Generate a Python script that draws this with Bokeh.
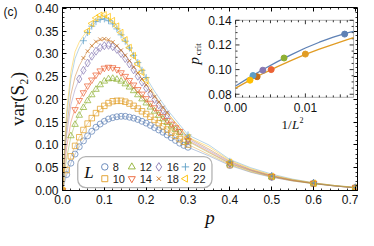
import numpy as np
from bokeh.plotting import figure
from bokeh.models import (Range1d, LinearAxis, SingleIntervalTicker, PrintfTickFormatter,
                          CustomJSTickFormatter, FixedTicker, BoxAnnotation, Label,
                          ColumnDataSource)
from bokeh.embed import file_html
from bokeh.resources import INLINE

# ---------------- data ----------------
L_VALUES = [8, 10, 12, 14, 16, 18, 20, 22]

P_GRID = [0.00, 0.01, 0.02, 0.03, 0.04, 0.05, 0.06, 0.07, 0.08, 0.09,
          0.10, 0.11, 0.12, 0.13, 0.14, 0.15, 0.16, 0.17, 0.18, 0.19,
          0.20, 0.21, 0.22, 0.23, 0.24, 0.25, 0.26, 0.27, 0.28, 0.29,
          0.30, 0.40, 0.50, 0.60, 0.70]

N = None
VAR_L8 = [0, .035, .060, .080, .096, .109, .120, .130, .139, .146,
          .152, .157, .160, .162, .163, .163, .161, .159, .156, .152,
          .148, .143, .138, .133, .128, .122, .116, .110, .104, .099,
          .095, .055, .029, .015, .006]
VAR_L10 = [0, .045, .075, .098, .117, .133, .147, .159, .170, .179,
           .186, .192, .196, .197, .197, .195, .191, .186, .180, .174,
           .168, .162, .155, .148, .141, .134, .127, .120, .113, .107,
           .101, .056, .030, .015, .006]
VAR_L12 = [0, N, .120, .145, .165, .182, .197, .210, .222, .232,
           .240, .245, .246, .244, .240, .234, .227, .219, .210, .201,
           .192, .183, .174, .165, .157, .149, .141, .134, .127, N,
           .108, .058, .030, .016, .006]
VAR_L14 = [0, N, N, .178, .198, .215, .230, .243, .254, .263,
           .269, .271, .270, .266, .259, .251, .242, .232, .222, .212,
           .202, .192, .182, .172, .163, .154, .146, .138, .130, N,
           .110, .059, .031, .016, .006]
VAR_L16 = [0, N, N, N, .245, .264, .280, .295, .306, .314,
           .318, .319, .316, .310, .301, .290, .278, .265, .251, .238,
           .225, .212, .200, .188, .177, .166, N, N, N, N,
           .113, .060, .031, .016, .006]
VAR_L18 = [0, N, N, N, N, .291, .306, .318, .327, .332,
           .333, .331, .326, .318, .308, .297, .285, .271, .258, .245,
           .232, .219, .206, .194, .182, .171, N, N, N, N,
           .116, .061, .032, .016, .006]
VAR_L20 = [0, N, N, N, N, .329, .347, .361, .371, .376,
           .377, .373, .366, .355, .342, .328, .313, .297, .281, .264,
           .248, N, N, N, N, N, N, N, N, N,
           .122, .064, .032, .017, .007]
VAR_L22 = [0, N, N, N, N, N, .350, .367, .379, .385,
           .386, .382, .373, .361, .347, .331, .314, .296, .278, .260,
           .242, N, N, N, N, N, N, N, N, N,
           .117, .062, .031, .016, .006]

FIT_P = [0, 0.005, 0.01, 0.02, 0.03, 0.04, 0.05, 0.06, 0.08, 0.10, 0.12, 0.14, 0.16,
         0.18, 0.20, 0.22, 0.25, 0.30, 0.35, 0.40, 0.45, 0.50, 0.55, 0.60, 0.65, 0.70]
FIT_L8 = [0, .018, .034, .060, .080, .096, .109, .120, .139, .152, .160, .163, .161,
          .156, .148, .138, .122, .095, .076, .055, .040, .029, .021, .015, .010, .006]
FIT_L10 = [0, .025, .045, .075, .098, .117, .133, .147, .170, .186, .196, .197, .191,
           .180, .168, .155, .134, .101, .079, .057, .041, .030, .021, .015, .010, .006]
FIT_L12 = [0, .040, .072, .118, .147, .167, .183, .197, .222, .240, .246, .240, .227,
           .210, .192, .174, .149, .108, .083, .059, .043, .031, .022, .015, .010, .006]
FIT_L14 = [0, .055, .095, .150, .180, .199, .215, .230, .254, .269, .270, .259, .242,
           .222, .202, .182, .154, .110, .085, .060, .044, .031, .022, .016, .010, .006]
FIT_L16 = [0, .070, .122, .188, .222, .245, .264, .280, .306, .318, .316, .301, .278,
           .251, .225, .200, .166, .113, .088, .062, .045, .032, .023, .016, .010, .006]
FIT_L18 = [0, .080, .140, .210, .250, .274, .291, .306, .327, .333, .326, .308, .285,
           .258, .232, .206, .171, .116, .091, .064, .046, .033, .023, .016, .011, .006]
FIT_L20 = [0, .090, .160, .245, .290, .313, .329, .347, .371, .377, .366, .342, .313,
           .281, .248, .218, .178, .122, .100, .068, .050, .036, .025, .017, .011, .007]
FIT_L22 = [0, .100, .175, .260, .305, .326, .340, .352, .379, .386, .373, .347, .314,
           .278, .242, .210, .170, .117, .096, .066, .048, .034, .024, .017, .011, .007]

# inset: critical p vs 1/L^2
INSET_PCRIT = [0.1288, 0.1126, 0.1094, 0.1000, 0.0995, 0.0942, 0.0952, 0.0914]
INSET_FIT_X = [0.0, 0.002, 0.004, 0.006, 0.008, 0.010, 0.012, 0.014, 0.016, 0.0169]
INSET_FIT_A = [0.0867, 0.0937, 0.1003, 0.1065, 0.1122, 0.1175, 0.1222, 0.1263, 0.1297, 0.1310]
INSET_FIT_B = [0.0850, 0.0912, 0.0970, 0.1024, 0.1075, 0.1124, 0.1166, 0.1205, 0.1244, 0.1260]

INSET_X_TICKS = [0.0, 0.01]
INSET_X_LABELS = ["0.00", "0.01"]
INSET_Y_TICKS = [0.08, 0.10, 0.12, 0.14]
INSET_Y_LABELS = ["0.08", "0.10", "0.12", "0.14"]

COLORS = ["#5E81B5", "#E19C24", "#8FB032", "#EB6235",
          "#8778B3", "#C56E1A", "#5D9EC7", "#FFBF00"]
MARKER_STYLE = [("circle", 0.0, 6), ("square", 0.0, 5.5), ("triangle", 0.0, 6.5),
                ("inverted_triangle", 0.0, 6.5), ("diamond", 0.0, 8), ("x", 0.0, 5.5),
                ("cross", 0.0, 7), ("triangle", np.pi / 2, 6.5)]

SERIES_VALUES = [VAR_L8, VAR_L10, VAR_L12, VAR_L14, VAR_L16, VAR_L18, VAR_L20, VAR_L22]
SERIES_FITS = [FIT_L8, FIT_L10, FIT_L12, FIT_L14, FIT_L16, FIT_L18, FIT_L20, FIT_L22]

# ---------------- layout ----------------
W, H = 358, 230
FRAME_L, FRAME_R, FRAME_T, FRAME_B = 57, 357, 7, 193
X_RANGE = (0.0, 0.705)
Y_RANGE = (0.0, 0.402)


def dx(px):
    return X_RANGE[0] + (px - FRAME_L) / (FRAME_R - FRAME_L) * (X_RANGE[1] - X_RANGE[0])


def dy(py):
    return Y_RANGE[1] - (py - FRAME_T) / (FRAME_B - FRAME_T) * (Y_RANGE[1] - Y_RANGE[0])


p = figure(width=W, height=H, x_range=Range1d(*X_RANGE), y_range=Range1d(*Y_RANGE),
           output_backend="svg", toolbar_location=None, x_axis_type=None, y_axis_type=None,
           min_border_left=FRAME_L, min_border_right=W - FRAME_R, min_border_top=FRAME_T,
           min_border_bottom=H - FRAME_B)
p.outline_line_color = None
p.background_fill_color = "white"
p.border_fill_color = "white"


def frame_axis(interval, fmt=None):
    ax = LinearAxis(ticker=SingleIntervalTicker(interval=interval, num_minor_ticks=5))
    ax.axis_line_color = "black"
    ax.axis_line_width = 1
    ax.major_tick_in = 4
    ax.major_tick_out = 0
    ax.minor_tick_in = 2
    ax.minor_tick_out = 0
    ax.major_tick_line_color = "black"
    ax.minor_tick_line_color = "black"
    ax.minor_tick_line_width = 0.8
    if fmt:
        ax.formatter = PrintfTickFormatter(format=fmt)
        ax.major_label_text_font = "Liberation Sans"
        ax.major_label_text_font_size = "12px"
        ax.major_label_text_color = "#111111"
        ax.major_label_standoff = 4
    else:
        ax.formatter = CustomJSTickFormatter(code="return ''")
        ax.major_label_text_font_size = "0px"
        ax.major_label_standoff = 0
    return ax


xaxis = frame_axis(0.1, "%.1f")
xaxis.axis_label = "p"
xaxis.axis_label_text_font = "Liberation Serif"
xaxis.axis_label_text_font_style = "italic"
xaxis.axis_label_text_font_size = "19px"
xaxis.axis_label_text_color = "#111111"
xaxis.axis_label_standoff = 0
p.add_layout(xaxis, "below")

yaxis = frame_axis(0.05, "%.2f")
yaxis.axis_label = "var(S\u2082)"
yaxis.axis_label_text_font = "Liberation Serif"
yaxis.axis_label_text_font_style = "normal"
yaxis.axis_label_text_font_size = "19px"
yaxis.axis_label_text_color = "#111111"
yaxis.axis_label_standoff = 4
p.add_layout(yaxis, "left")

# panel tag "(c)" as the single tick label of an outer, invisible left axis
tag_axis = LinearAxis(ticker=FixedTicker(ticks=[0.393], minor_ticks=[]),
                      formatter=CustomJSTickFormatter(code="return '(c)'"))
tag_axis.axis_line_color = None
tag_axis.major_tick_line_color = None
tag_axis.minor_tick_line_color = None
tag_axis.major_tick_in = 0
tag_axis.major_tick_out = 0
tag_axis.major_label_standoff = -13
tag_axis.major_label_text_font = "Liberation Sans"
tag_axis.major_label_text_font_size = "12px"
tag_axis.major_label_text_color = "#111111"
p.add_layout(tag_axis, "left")

p.add_layout(frame_axis(0.1), "above")
p.add_layout(frame_axis(0.05), "right")

# ---------------- main curves ----------------
for i, fit in enumerate(SERIES_FITS):
    p.line(FIT_P, fit, line_color=COLORS[i], line_width=0.8, line_alpha=0.55)

for i, vals in enumerate(SERIES_VALUES):
    xs = [pp for pp, v in zip(P_GRID, vals) if v is not None]
    ys = [v for v in vals if v is not None]
    mk, ang, sz = MARKER_STYLE[i]
    p.scatter(xs, ys, marker=mk, angle=ang, size=sz, fill_color=None,
              line_color=COLORS[i], line_width=1, line_alpha=0.72)


def lab(text, px, py, size, font="Liberation Sans", style="normal", align="center",
        baseline="middle", angle=0.0, color="#111111"):
    l = Label(x=dx(px), y=dy(py), text=text, text_font=font, text_font_size=f"{size}px",
              text_font_style=style, text_align=align, text_baseline=baseline,
              angle=angle, text_color=color, level="overlay")
    p.add_layout(l)


# ---------------- legend ----------------
box_kw = dict(left=dx(72.5), right=dx(209), top=dy(158.5), bottom=dy(190),
              fill_color="white", fill_alpha=1.0, line_color="black", line_width=1.3)
if "border_radius" in BoxAnnotation.properties():
    box_kw["border_radius"] = 8
p.add_layout(BoxAnnotation(**box_kw))
lab("L", 84, 174.5, 17, font="Liberation Serif", style="italic")
LEG_COL_X = [100, 127.5, 155, 182]
LEG_ROW_Y = [169, 181]
for i, L in enumerate(L_VALUES):
    mx = LEG_COL_X[i // 2]
    my = LEG_ROW_Y[i % 2]
    mk, ang, sz = MARKER_STYLE[i]
    p.scatter([dx(mx)], [dy(my)], marker=mk, angle=ang, size=sz + 0.5, fill_color=None,
              line_color=COLORS[i], line_width=1, line_alpha=0.9, level="overlay")
    lab(str(L), mx + 8, my, 11, align="left", color="#222222")

# ---------------- inset ----------------
IX0, IX1, IY0, IY1 = 0.0, 0.0169, 0.0775, 0.14
IL, IR, IT, IB = 233.0, 353.0, 20.0, 98.3
sx = (IX1 - IX0) / (IR - IL)
sy = (IY1 - IY0) / (IB - IT)
ix_start = IX0 - (IL - FRAME_L) * sx
ix_end = ix_start + (FRAME_R - FRAME_L) * sx
iy_end = IY1 + (IT - FRAME_T) * sy
iy_start = iy_end - (FRAME_B - FRAME_T) * sy
p.extra_x_ranges = {"ix": Range1d(ix_start, ix_end)}
p.extra_y_ranges = {"iy": Range1d(iy_start, iy_end)}


def ipx(x):
    return IL + (x - IX0) / sx


def ipy(y):
    return IT + (IY1 - y) / sy


p.add_layout(BoxAnnotation(left=dx(IL), right=dx(IR), top=dy(IT), bottom=dy(IB),
                           fill_color="white", fill_alpha=1.0, line_color="black",
                           line_width=1))

# inset ticks
x0s, y0s, x1s, y1s = [], [], [], []
for k in range(0, 17):
    xv = k * 0.001
    ln = 4 if k % 10 == 0 else (3 if k % 5 == 0 else 2)
    for yb, sgn in ((IY0, 1), (IY1, -1)):
        x0s.append(xv); x1s.append(xv)
        y0s.append(yb); y1s.append(yb + sgn * ln * sy)
for k in range(0, 13):
    yv = 0.08 + k * 0.005
    ln = 4 if k % 4 == 0 else 2
    for xb, sgn in ((IX0, 1), (IX1, -1)):
        y0s.append(yv); y1s.append(yv)
        x0s.append(xb); x1s.append(xb + sgn * ln * sx)
p.segment(x0s, y0s, x1s, y1s, line_color="black", line_width=0.8,
          x_range_name="ix", y_range_name="iy", level="overlay")

for xv, t in zip(INSET_X_TICKS, INSET_X_LABELS):
    lab(t, ipx(xv), IB + 10, 12)
for yv, t in zip(INSET_Y_TICKS, INSET_Y_LABELS):
    lab(t, IL - 4, ipy(yv), 12, align="right")
lab("p", 191, 61, 15, font="Liberation Serif", style="italic", angle=np.pi / 2)
lab("crit", 194.5, 49.5, 9, font="Liberation Serif", angle=np.pi / 2)
lab("1/", 290, 126, 13, font="Liberation Serif", align="right")
lab("L", 290.5, 126, 13, font="Liberation Serif", style="italic", align="left")
lab("2", 298, 121, 8, font="Liberation Serif", align="left")

p.line(INSET_FIT_X, INSET_FIT_A, line_color=COLORS[0], line_width=1.3,
       x_range_name="ix", y_range_name="iy", level="overlay")
p.line(INSET_FIT_X, INSET_FIT_B, line_color=COLORS[1], line_width=1.3,
       x_range_name="ix", y_range_name="iy", level="overlay")
inset_src = ColumnDataSource(dict(x=[1.0 / L ** 2 for L in L_VALUES], y=INSET_PCRIT,
                                  c=COLORS))
p.scatter("x", "y", source=inset_src, size=6, fill_color="c", line_color="c",
          x_range_name="ix", y_range_name="iy", level="overlay")

open("out.html", "w").write(file_html(p, INLINE))
